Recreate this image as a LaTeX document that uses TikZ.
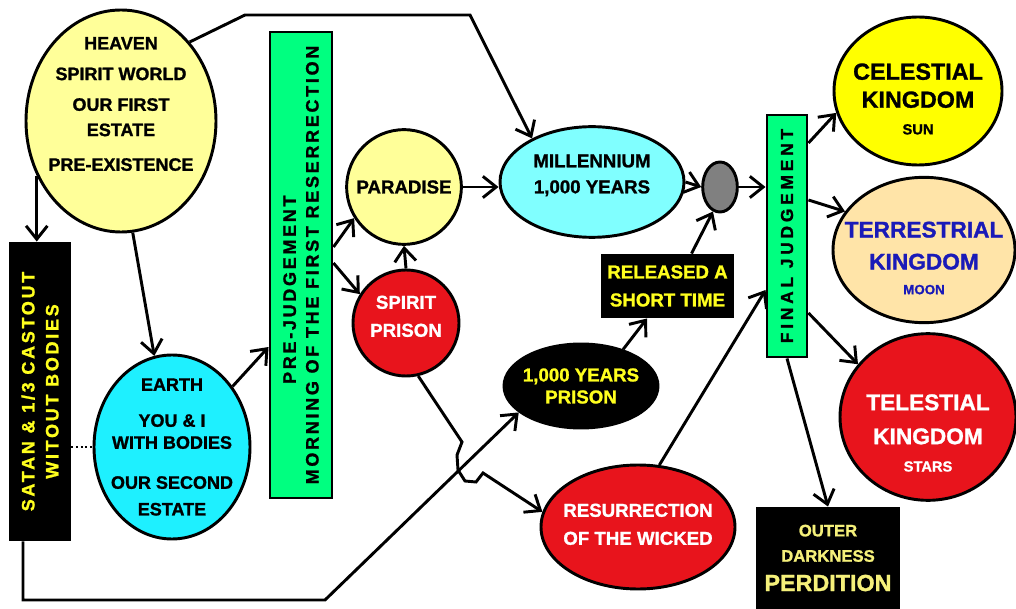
\documentclass[tikz,border=0pt]{standalone}
\usepackage{fontspec}
\setmainfont{Liberation Sans}[BoldFeatures={FakeBold=1.2}]
\usetikzlibrary{arrows.meta,shapes.geometric}

\definecolor{heavenyellow}{HTML}{FFFF99}
\definecolor{earthcyan}{HTML}{1EF0FF}
\definecolor{millcyan}{HTML}{80FFFF}
\definecolor{judgegreen}{HTML}{00FF80}
\definecolor{wickedred}{HTML}{E8141C}
\definecolor{terrwheat}{HTML}{FFE4A8}
\definecolor{celyellow}{HTML}{FFFF00}
\definecolor{satanyellow}{HTML}{FFFF1E}
\definecolor{outeryellow}{HTML}{F5F07A}
\definecolor{terrblue}{HTML}{1A1AB8}

\newcommand\fs[2]{\fontsize{#1}{#2}\selectfont}
\newcommand\spaced[2][15]{{\addfontfeature{LetterSpace=#1}#2}}

\tikzset{
every node/.style={ellipse, draw, line width=2.2pt, inner sep=0pt, font=\bfseries},
every label/.style={rectangle, draw=none, fill=none, align=center, inner sep=0pt, font=\bfseries\fs{14}{19}},
box/.style={rectangle, rotate=90, align=center},
arr/.style={line width=2.2pt, -{Straight Barb[length=10pt,width=16pt]}}
}

\begin{document}
\begin{tikzpicture}[x=0.75pt,y=-0.75pt]
\useasboundingbox (0,0) rectangle (1016,609);

% left column
\node[fill=heavenyellow, minimum width=142.5pt, minimum height=166.5pt,
  label={[yshift=12.75pt, font=\bfseries\fs{13.5}{19}]center:{HEAVEN\\[4pt]SPIRIT WORLD\\[4pt]OUR FIRST\\ESTATE\\[7pt]PRE-EXISTENCE}}] (heaven) at (121,121) {};
\node[box, fill=black, text=satanyellow, minimum width=222.75pt, minimum height=45pt, font=\bfseries\fs{13.5}{18}] (satan) at (40,391.5) {\spaced{SATAN \& 1/3 CASTOUT}\\\spaced{WITOUT BODIES}};
\node[fill=earthcyan, minimum width=117pt, minimum height=138pt,
  label={[font=\bfseries\fs{13.5}{16.5}]center:{EARTH\\[10.5pt]YOU \& I\\WITH BODIES\\[13.5pt]OUR SECOND\\[3.5pt]ESTATE}}] (earth) at (172,447) {};
\node[box, fill=judgegreen, minimum width=349.5pt, minimum height=46.5pt, font=\bfseries\fs{13.5}{17}] (prejudge) at (301,265) {\spaced{PRE-JUDGEMENT}\hspace*{37pt}\\\spaced{MORNING OF THE FIRST RESERRECTION}};

% middle
\node[circle, fill=heavenyellow, minimum size=86pt, label={center:PARADISE}] (paradise) at (404,187) {};
\node[circle, fill=wickedred, minimum size=79.5pt, label={[yshift=5pt, text=white, font=\bfseries\fs{14}{21}]center:{SPIRIT\\PRISON}}] (spiritp) at (406,323) {};
\node[fill=millcyan, minimum width=138pt, minimum height=83pt, label={[yshift=5pt, font=\bfseries\fs{14}{19.5}]center:{MILLENNIUM\\1,000 YEARS}}] (millennium) at (592,182) {};
\node[fill=gray, minimum width=26pt, minimum height=37.5pt] (gate) at (720,187) {};
\node[fill=black, minimum width=115.5pt, minimum height=63pt, label={[text=satanyellow, font=\bfseries\fs{14}{16.5}]center:{1,000 YEARS\\PRISON}}] (prison) at (581,386) {};
\node[rectangle, fill=black, text=satanyellow, minimum width=98pt, minimum height=46.5pt, align=center, font=\bfseries\fs{14}{21}] (released) at (667.5,286) {RELEASED A\\SHORT TIME};
\node[fill=wickedred, minimum width=145.5pt, minimum height=93pt, label={[yshift=2pt, text=white, font=\bfseries\fs{14}{21}]center:{RESURRECTION\\OF THE WICKED}}] (wicked) at (638,527) {};

% right column
\node[box, fill=judgegreen, minimum width=181.5pt, minimum height=30pt, font=\bfseries\fs{13}{13}] (final) at (787,236) {\spaced[22]{FINAL JUDGEMENT}};
\node[fill=celyellow, minimum width=126pt, minimum height=111pt, label={[yshift=-6pt, font=\bfseries\fs{17.5}{21}]center:{CELESTIAL\\KINGDOM\\[-1pt]{\fs{11}{11}SUN}}}] (celestial) at (918,91) {};
\node[fill=terrwheat, minimum width=136.5pt, minimum height=109pt, label={[yshift=-6pt, text=terrblue, font=\bfseries\fs{17}{24}]center:{TERRESTRIAL\\KINGDOM\\[-5.5pt]{\fs{10}{10}MOON}}}] (terrestrial) at (924,250) {};
\node[fill=wickedred, minimum width=132pt, minimum height=125pt, label={[yshift=-12pt, text=white, font=\bfseries\fs{17}{25.5}]center:{TELESTIAL\\KINGDOM\\[-5pt]{\fs{11}{11}STARS}}}] (telestial) at (928,417) {};
\node[rectangle, fill=black, text=outeryellow, minimum width=106.5pt, minimum height=75pt, align=center, font=\bfseries\fs{12.5}{19}] (outer) at (828,558) {OUTER\\DARKNESS\\[3pt]{\fs{17.5}{20}PERDITION}};

\coordinate (c1) at (245,15);
\coordinate (c2) at (470,15);
\coordinate (c3) at (23,600);
\coordinate (c4) at (325,600);

\draw[arr] (heaven.49) -- (c1) -- (c2) -- (millennium.144);
\draw[arr] (heaven.213) -- (heaven.213 |- satan.east);
\draw[arr] (c3 |- satan.west) -- (c3) -- (c4) -- (prison.203);
\draw[arr] (heaven.276) -- (earth.101);
\draw[line width=1.5pt, dotted] (satan.south |- earth.west) -- (earth.west);
\draw[arr] (earth.45) -- (prejudge.north |- 0,347);
\draw[arr] (prejudge.south |- 0,247) -- (paradise.212);
\draw[arr] (prejudge.south |- 0,263) -- (spiritp.148);
\draw[arr] (spiritp.north) -- (paradise.south);
\draw[arr] (paradise.east) -- (paradise.east -| millennium.west);
\draw[arr] (millennium.east) -- (gate.west);
\draw[arr] (gate.east) -- (gate.east -| final.north);
\draw[arr] ([xshift=18pt]released.north) -- (gate.254);
\draw[arr] (prison.41) -- (released.south -| 647,0);
\draw[arr] (spiritp.283) -- (462,442) -- (457,455) -- (458,470) -- (465,481) -- (476,482) -- (483,473) -- (wicked.171);
\draw[arr] (wicked.71) -- (final.north |- 0,290);
\draw[arr] (final.south |- 0,143) -- (celestial.195);
\draw[arr] (final.south |- 0,200) -- (terrestrial.154);
\draw[arr] (final.south |- 0,313) -- (telestial.143);
\draw[arr] (final.west) -- (outer.north);

\end{tikzpicture}
\end{document}
